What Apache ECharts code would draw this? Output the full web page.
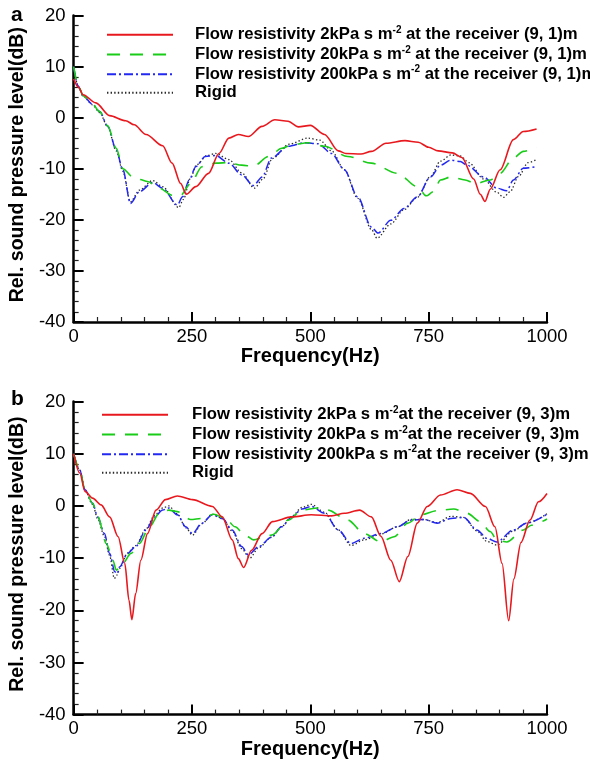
<!DOCTYPE html>
<html><head><meta charset="utf-8">
<script src="https://cdn.jsdelivr.net/npm/echarts@6/dist/echarts.min.js"></script>
<style>html,body{margin:0;padding:0;background:#fff}#c{width:590px;height:763px}</style>
</head><body><div id="c"></div>
<script>
// ---------- Panel a : receiver (9, 1) m ----------
const aRed = [[0,7.6],[10,6.0],[20,4.5],[47,2.9],[76,0.4],[110,-0.6],[128,-1.4],[153,-3.3],[188,-5.5],[208,-8.9],[226,-12.9],[238,-15.0],[258,-13.5],[285,-10.9],[307,-7.0],[328,-4.0],[348,-3.3],[369,-3.7],[398,-1.7],[425,-0.4],[453,-0.7],[475,-1.8],[500,-1.5],[530,-3.3],[559,-6.5],[575,-7.0],[607,-7.1],[629,-6.6],[660,-5.0],[700,-4.5],[728,-4.8],[750,-5.8],[770,-6.5],[800,-6.9],[820,-7.8],[845,-12.0],[859,-15.0],[869,-16.4],[880,-14.0],[901,-10.2],[929,-4.3],[950,-2.7],[978,-2.2]];
const aGreen = [[0,10],[10,6.2],[20,4.3],[40,2.6],[55,1.2],[72,-1.6],[90,-6.0],[104,-10.0],[125,-11.6],[140,-12.1],[156,-12.5],[181,-13.8],[208,-15.2],[226,-15.2],[247,-12.9],[271,-9.6],[300,-8.9],[328,-8.8],[355,-9.3],[380,-9.5],[412,-7.6],[440,-6.0],[461,-5.3],[495,-4.9],[530,-5.6],[579,-7.6],[629,-8.9],[684,-10.9],[726,-13.5],[745,-15.3],[760,-14.5],[775,-12.2],[797,-11.6],[827,-12.2],[849,-12.9],[880,-12.2],[901,-10.9],[929,-7.9],[950,-6.6],[978,-5.8]];
const aBlue = [[0,10],[9.5,6.2],[20,4.3],[40,2.6],[55,1.2],[72,-1.7],[90,-6.3],[104,-10.2],[120,-16.8],[139,-14.5],[167,-12.7],[188,-13.8],[219,-17.1],[230,-15.5],[244,-12.2],[258,-9.6],[278,-7.6],[300,-7.4],[328,-8.9],[355,-11.2],[380,-13.3],[398,-11.6],[418,-7.9],[453,-5.6],[489,-4.9],[516,-5.1],[545,-7.0],[572,-10.2],[600,-15.5],[629,-21.4],[643,-22.6],[670,-20.1],[698,-17.8],[726,-15.5],[754,-11.6],[775,-9.3],[797,-8.3],[817,-8.6],[831,-9.3],[866,-11.6],[894,-13.8],[915,-14.3],[929,-12.2],[950,-9.9],[978,-9.6]];
const aRigid = [[0,10],[10,6.0],[20,4.2],[40,2.5],[55,1.0],[72,-1.8],[90,-6.5],[104,-10.5],[120,-16.5],[139,-14.2],[167,-12.3],[188,-13.5],[222,-17.6],[232,-16.0],[246,-12.0],[260,-9.2],[282,-7.4],[300,-7.0],[328,-8.2],[355,-10.8],[382,-13.8],[400,-12.0],[420,-8.0],[455,-5.2],[495,-4.0],[520,-4.4],[545,-6.5],[572,-10.2],[600,-15.8],[630,-22.0],[641,-23.6],[670,-20.8],[698,-18.0],[726,-15.6],[754,-11.5],[775,-8.5],[797,-7.3],[817,-7.5],[835,-8.8],[866,-12.0],[894,-14.6],[908,-15.6],[922,-14.5],[940,-11.5],[960,-8.8],[978,-8.2]];

// ---------- Panel b : receiver (9, 3) m ----------
const bRed = [[0,10],[13,6.3],[24,2.8],[40,1.5],[58,0.2],[76,-2.1],[94,-5.9],[108,-11.0],[117,-18.1],[123,-21.8],[131,-16.8],[142,-10.4],[156,-5.3],[174,-0.8],[194,1.2],[219,1.9],[251,1.2],[293,-0.1],[314,-2.1],[335,-6.5],[348,-10.1],[359,-11.8],[376,-8.5],[398,-5.3],[420,-3.0],[461,-2.1],[502,-1.7],[545,-1.9],[572,-1.4],[604,-0.8],[629,-2.1],[649,-5.8],[670,-10.4],[688,-14.5],[706,-9.7],[726,-3.3],[747,-0.1],[775,2.1],[810,3.1],[838,2.4],[870,-0.1],[890,-4.0],[905,-11.0],[919,-22.0],[930,-14.0],[945,-7.0],[964,-2.7],[982,0.8],[1000,2.4]];
const bGreen = [[0,10],[13,6.9],[24,3.1],[40,0.5],[51,-2.0],[69,-7.2],[83,-10.4],[90,-12.3],[104,-11.0],[121,-9.1],[139,-7.2],[160,-4.0],[181,-1.4],[201,-0.8],[219,-1.1],[247,-2.6],[271,-2.4],[296,-1.6],[321,-2.4],[341,-4.0],[362,-5.6],[380,-6.5],[405,-5.9],[418,-5.6],[454,-2.7],[482,-0.8],[516,-0.4],[537,-0.8],[579,-2.7],[614,-5.3],[649,-6.9],[677,-5.9],[706,-3.3],[733,-1.7],[768,-0.9],[803,-0.6],[831,-1.4],[859,-3.0],[880,-4.9],[894,-6.5],[915,-6.9],[950,-4.6],[967,-3.7],[1000,-2.5]];
const bBlue = [[0,10],[13,6.9],[24,3.1],[40,0.5],[51,-2.1],[65,-5.3],[76,-9.1],[87,-12.6],[92,-13.0],[97,-11.7],[114,-9.1],[131,-7.8],[153,-4.6],[171,-2.1],[188,-0.8],[201,-0.4],[219,-1.7],[237,-4.0],[251,-5.3],[271,-3.3],[293,-1.7],[314,-2.4],[335,-4.6],[355,-7.8],[369,-9.4],[391,-7.8],[418,-6.0],[439,-4.0],[461,-2.1],[482,-0.6],[502,-0.1],[530,-1.4],[559,-4.6],[586,-7.2],[614,-6.2],[649,-5.3],[684,-4.0],[713,-2.7],[740,-2.6],[768,-3.3],[797,-2.4],[824,-2.2],[852,-4.6],[873,-6.2],[894,-6.9],[929,-4.6],[957,-3.3],[1000,-1.6]];
const bRigid = [[0,10],[13,6.9],[24,3.0],[40,0.3],[51,-2.5],[65,-5.8],[76,-9.5],[86,-13.9],[92,-13.2],[97,-12.0],[114,-9.0],[131,-7.6],[153,-4.4],[171,-1.8],[188,-0.4],[201,0.0],[219,-1.5],[237,-4.2],[251,-5.6],[271,-3.4],[293,-1.6],[314,-2.4],[335,-4.8],[355,-8.2],[372,-10.0],[391,-8.0],[418,-6.0],[439,-4.0],[461,-2.0],[482,-0.3],[502,0.3],[530,-1.2],[559,-4.6],[586,-7.6],[614,-6.5],[649,-5.4],[684,-4.0],[713,-2.6],[740,-2.6],[768,-3.2],[797,-2.0],[824,-2.2],[852,-4.8],[873,-6.8],[894,-7.5],[929,-4.8],[957,-3.3],[1000,-1.5]];

// ---------- texts ----------
const xTicks = [0, 250, 500, 750, 1000];
const yTicks = [-40, -30, -20, -10, 0, 10, 20];
const xTitle = 'Frequency(Hz)';
const yTitle = 'Rel. sound pressure level(dB)';
const panelLabels = ['a', 'b'];
const legendA = ['Flow resistivity 2kPa s m-2 at the receiver (9, 1)m','Flow resistivity 20kPa s m-2 at the receiver (9, 1)m','Flow resistivity 200kPa s m-2 at the receiver (9, 1)m','Rigid'];
const legendB = ['Flow resistivity 2kPa s m-2at the receiver (9, 3)m','Flow resistivity 20kPa s m-2at the receiver (9, 3)m','Flow resistivity 200kPa s m-2at the receiver (9, 3)m','Rigid '];

const FONT = '"Liberation Sans", Arial, sans-serif';
const RED = '#e8191e', GREEN = '#18cc18', BLUE = '#2328f0', BLACK = '#2a2a2a';

function xAx(g) {
  return {
    type: 'value', gridIndex: g, min: xTicks[0], max: xTicks[xTicks.length - 1], interval: xTicks[1] - xTicks[0],
    name: xTitle, nameLocation: 'middle', nameGap: 24,
    nameTextStyle: { fontFamily: FONT, fontSize: 20, fontWeight: 'bold', color: '#000' },
    axisLine: { show: true, onZero: false, lineStyle: { color: '#000', width: 2.5 } },
    axisTick: { show: true, inside: true, length: 10, lineStyle: { color: '#000', width: 2 } },
    minorTick: { show: true, splitNumber: 5, length: 5, lineStyle: { color: '#222', width: 1.2 } },
    axisLabel: { fontFamily: FONT, fontSize: 18.5, color: '#000', margin: 5, formatter: v => String(v) },
    splitLine: { show: false }, minorSplitLine: { show: false }
  };
}
function yAx(g) {
  return {
    type: 'value', gridIndex: g, min: yTicks[0], max: yTicks[yTicks.length - 1], interval: yTicks[1] - yTicks[0],
    name: yTitle, nameLocation: 'middle', nameGap: 41,
    nameTextStyle: { fontFamily: FONT, fontSize: 19.5, fontWeight: 'bold', color: '#000', padding: [0, 0, 0, 8] },
    axisLine: { show: true, onZero: false, lineStyle: { color: '#000', width: 2.5 } },
    axisTick: { show: true, inside: true, length: 10, lineStyle: { color: '#000', width: 2 } },
    minorTick: { show: true, splitNumber: 5, length: 5, lineStyle: { color: '#222', width: 1.2 } },
    axisLabel: { fontFamily: FONT, fontSize: 18.5, color: '#000', margin: 8, formatter: v => String(v) },
    splitLine: { show: false }, minorSplitLine: { show: false }
  };
}
function fmt(name) {
  const s = name.trim();
  const i = s.indexOf('m-2');
  if (i < 0) return '{t|' + s + '}';
  return '{t|' + s.slice(0, i + 1) + '}{sup|-2}{t|' + s.slice(i + 3) + '}';
}
function legend(names, left, top, pad) {
  return {
    orient: 'vertical', left: left, top: top, padding: 0, itemGap: 1.4,
    itemWidth: 66, itemHeight: 12, data: names, formatter: fmt, selectedMode: false,
    itemStyle: { opacity: 0 },
    textStyle: {
      padding: [0, 0, 0, pad],
      rich: {
        t: { fontFamily: FONT, fontSize: 16.7, fontWeight: 'bold', color: '#000', lineHeight: 19.7 },
        sup: { fontFamily: FONT, fontSize: 10, fontWeight: 'bold', color: '#000', verticalAlign: 'top', lineHeight: 12 }
      }
    }
  };
}
function ser(name, data, g, color, type, width) {
  return {
    type: 'line', name: name, data: data, xAxisIndex: g, yAxisIndex: g,
    symbol: 'none', smooth: 0.3, smoothMonotone: 'x', animation: false,
    lineStyle: { color: color, width: width, type: type }, itemStyle: { color: color }
  };
}
const DOT = [1.4, 2.2], DASH = [13, 10], DASHDOT = [9, 3, 2, 3];

const chart = echarts.init(document.getElementById('c'), null, { renderer: 'canvas' });
chart.setOption({
  animation: false,
  backgroundColor: '#fff',
  grid: [
    { left: 70.5, top: 15.5, width: 476.5, height: 306.5 },
    { left: 70.5, top: 401.6, width: 476.5, height: 313 }
  ],
  xAxis: [xAx(0), xAx(1)],
  yAxis: [yAx(0), yAx(1)],
  legend: [legend(legendA, 106, 25, 17), legend(legendB, 101, 405, 19)],
  graphic: [
    { type: 'text', left: 11, top: 5, style: { text: panelLabels[0], font: 'bold 21px "Liberation Sans", Arial', fill: '#000' } },
    { type: 'text', left: 11, top: 389, style: { text: panelLabels[1], font: 'bold 21px "Liberation Sans", Arial', fill: '#000' } }
  ],
  series: [
    ser(legendA[3], aRigid, 0, BLACK, DOT, 1.3),
    ser(legendA[2], aBlue, 0, BLUE, DASHDOT, 1.5),
    ser(legendA[1], aGreen, 0, GREEN, DASH, 1.6),
    ser(legendA[0], aRed, 0, RED, 'solid', 1.6),
    ser(legendB[3], bRigid, 1, BLACK, DOT, 1.3),
    ser(legendB[2], bBlue, 1, BLUE, DASHDOT, 1.5),
    ser(legendB[1], bGreen, 1, GREEN, DASH, 1.6),
    ser(legendB[0], bRed, 1, RED, 'solid', 1.6)
  ]
});
</script></body></html>
